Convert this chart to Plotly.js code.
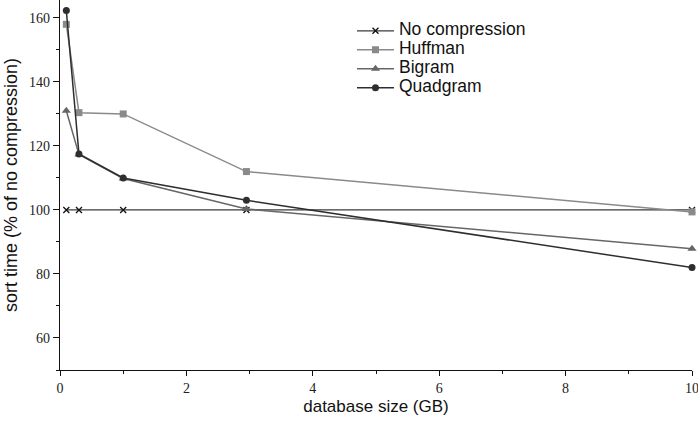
<!DOCTYPE html>
<html>
<head>
<meta charset="utf-8">
<script src="https://cdn.plot.ly/plotly-3.0.1.min.js"></script>
<style>html,body{margin:0;padding:0;background:#fff;}#chart{width:698px;height:421px;}</style>
</head>
<body>
<div id="chart"></div>
<script>
const sizesGB = [0.1, 0.3, 1, 2.95, 10];
const noCompression = [100, 100, 100, 100, 100];
const huffman = [158, 130.4, 130, 112, 99.4];
const bigram = [131, 117.3, 109.8, 100.3, 87.9];
const quadgram = [162.3, 117.5, 110, 103, 82];
const seriesNames = ["No compression", "Huffman", "Bigram", "Quadgram"];

const SANS = "'Liberation Sans', Arial, sans-serif";
const SERIF = "'Times New Roman', 'Liberation Serif', serif";
const legendName = n => '<span style="font-size:17.5px">' + n + '</span>';

const traces = [
  {x: sizesGB, y: noCompression, name: legendName(seriesNames[0]), mode: "lines+markers",
   line: {color: "#3a3a3a", width: 1.3}, marker: {symbol: "x-thin", size: 6, color: "#111", line: {width: 1.3, color: "#111"}}},
  {x: sizesGB, y: huffman, name: legendName(seriesNames[1]), mode: "lines+markers",
   line: {color: "#8a8a8a", width: 1.5}, marker: {symbol: "square", size: 7, color: "#8a8a8a"}},
  {x: sizesGB, y: bigram, name: legendName(seriesNames[2]), mode: "lines+markers",
   line: {color: "#666", width: 1.5}, marker: {symbol: "triangle-up", size: 8, color: "#666"}},
  {x: sizesGB, y: quadgram, name: legendName(seriesNames[3]), mode: "lines+markers",
   line: {color: "#2e2e2e", width: 1.5}, marker: {symbol: "circle", size: 7, color: "#2e2e2e"}}
].map(t => Object.assign(t, {cliponaxis: false}));

const layout = {
  width: 698, height: 421,
  margin: {l: 60, r: 6, t: 0, b: 51},
  paper_bgcolor: "#fff", plot_bgcolor: "#fff",
  font: {family: SANS, color: "#111"},
  showlegend: true,
  legend: {x: 0.462, y: 0.956, xanchor: "left", yanchor: "top",
           font: {family: SANS, size: 12, color: "#111"},
           tracegroupgap: 0, itemwidth: 37, bgcolor: "rgba(0,0,0,0)"},
  xaxis: {
    range: [0, 10], tickvals: [0, 2, 4, 6, 8, 10], showgrid: false, zeroline: false,
    showline: true, linecolor: "#111", linewidth: 1.2,
    ticks: "outside", ticklen: 5, tickwidth: 1, tickcolor: "#111",
    ticklabeloverflow: "allow",
    minor: {tickvals: [1, 3, 5, 7, 9], ticks: "outside", ticklen: 3, tickcolor: "#111", showgrid: false},
    tickfont: {family: SERIF, size: 14, color: "#222"},
    title: {text: "database size (GB)", standoff: 5,
            font: {family: SANS, size: 17, color: "#111"}}
  },
  yaxis: {
    range: [50, 165.6], tickvals: [60, 80, 100, 120, 140, 160], showgrid: false, zeroline: false,
    showline: true, linecolor: "#111", linewidth: 1.2,
    ticks: "outside", ticklen: 6, tickwidth: 1, tickcolor: "#111",
    minor: {tickvals: [50, 70, 90, 110, 130, 150], ticks: "outside", ticklen: 3, tickcolor: "#111", showgrid: false},
    tickfont: {family: SERIF, size: 14, color: "#222"},
    title: {text: "sort time (% of no compression)", standoff: 6,
            font: {family: SANS, size: 18, color: "#111"}}
  }
};

Plotly.newPlot("chart", traces, layout, {displayModeBar: false, staticPlot: true});
</script>
</body>
</html>
